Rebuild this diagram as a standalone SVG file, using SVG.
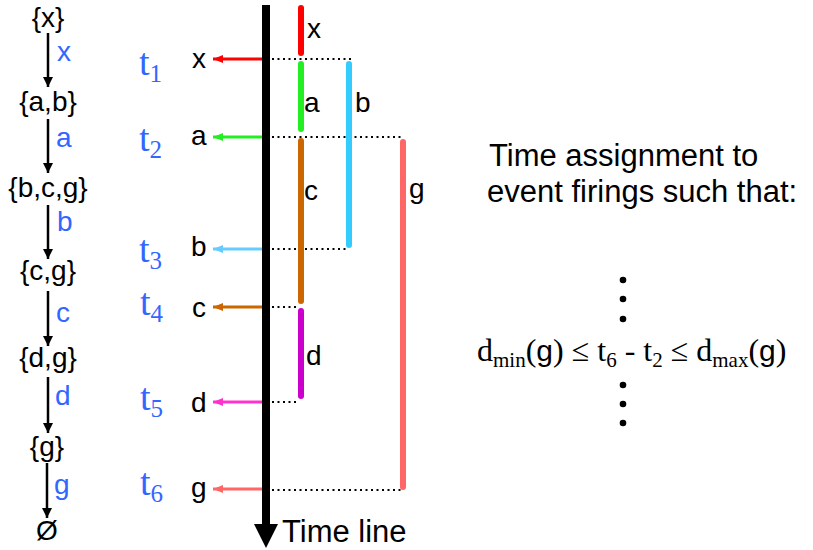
<svg xmlns="http://www.w3.org/2000/svg" width="813" height="550" viewBox="0 0 813 550">
<style>
.st{font-family:"Liberation Sans",Arial,sans-serif;font-size:28px;fill:#000;text-anchor:middle}
.ev{font-family:"Liberation Sans",Arial,sans-serif;font-size:28px;fill:#3366FF}
.lb{font-family:"Liberation Sans",Arial,sans-serif;font-size:28px;fill:#000}
.tm{font-family:"Liberation Serif","Times New Roman",serif;font-size:38px;fill:#3366FF}
.tms{font-family:"Liberation Serif","Times New Roman",serif;font-size:25px;fill:#3366FF}
.big{font-family:"Liberation Sans",Arial,sans-serif;font-size:31px;fill:#000}
.fs{font-family:"Liberation Serif","Times New Roman",serif;font-size:32px;fill:#000}
.fsub{font-family:"Liberation Serif","Times New Roman",serif;font-size:21px;fill:#000}
.fa{font-family:"Liberation Sans",Arial,sans-serif;font-size:30px;fill:#000}
.conn{stroke:#000;stroke-width:2.5;fill:none;marker-end:url(#ah)}
.dot{stroke:#000;stroke-width:2;stroke-dasharray:2 3.5;fill:none}
.bar{stroke-width:6;stroke-linecap:round;fill:none}
.ta{stroke-width:3;fill:none}
</style>
<defs>
<marker id="ah" markerUnits="userSpaceOnUse" markerWidth="12" markerHeight="12" refX="10" refY="5" orient="auto"><path d="M0,0 L10,5 L0,10 z" fill="#000"/></marker>
<marker id="mr" markerUnits="userSpaceOnUse" markerWidth="12" markerHeight="10" refX="10" refY="4" orient="auto"><path d="M0,0 L10,4 L0,8 z" fill="#FF0000"/></marker>
<marker id="mg" markerUnits="userSpaceOnUse" markerWidth="12" markerHeight="10" refX="10" refY="4" orient="auto"><path d="M0,0 L10,4 L0,8 z" fill="#22EE22"/></marker>
<marker id="mb" markerUnits="userSpaceOnUse" markerWidth="12" markerHeight="10" refX="10" refY="4" orient="auto"><path d="M0,0 L10,4 L0,8 z" fill="#66CCFF"/></marker>
<marker id="mc" markerUnits="userSpaceOnUse" markerWidth="12" markerHeight="10" refX="10" refY="4" orient="auto"><path d="M0,0 L10,4 L0,8 z" fill="#CC6600"/></marker>
<marker id="md" markerUnits="userSpaceOnUse" markerWidth="12" markerHeight="10" refX="10" refY="4" orient="auto"><path d="M0,0 L10,4 L0,8 z" fill="#FF33CC"/></marker>
<marker id="mgg" markerUnits="userSpaceOnUse" markerWidth="12" markerHeight="10" refX="10" refY="4" orient="auto"><path d="M0,0 L10,4 L0,8 z" fill="#FF6666"/></marker>
</defs>
<rect width="813" height="550" fill="#fff"/>

<!-- state sequence -->
<g id="s0"><text class="st" x="48" y="27">{x}</text></g>
<g id="s1"><text class="st" x="48" y="111">{a,b}</text></g>
<g id="s2"><text class="st" x="48" y="197">{b,c,g}</text></g>
<g id="s3"><text class="st" x="48" y="280">{c,g}</text></g>
<g id="s4"><text class="st" x="48" y="367">{d,g}</text></g>
<g id="s5"><text class="st" x="47" y="456">{g}</text></g>
<g id="s6"><text class="st" x="47" y="540">Ø</text></g>

<g id="connectors">
<line class="conn" x1="48" y1="33" x2="48" y2="87"/>
<line class="conn" x1="48" y1="119" x2="48" y2="173"/>
<line class="conn" x1="48" y1="205" x2="48" y2="259"/>
<line class="conn" x1="48" y1="291" x2="48" y2="346"/>
<line class="conn" x1="48" y1="377" x2="48" y2="433"/>
<line class="conn" x1="47" y1="463" x2="47" y2="518"/>
<text class="ev" x="57" y="61">x</text>
<text class="ev" x="56" y="147">a</text>
<text class="ev" x="57" y="231">b</text>
<text class="ev" x="56" y="322">c</text>
<text class="ev" x="55" y="405">d</text>
<text class="ev" x="54" y="494">g</text>
</g>

<!-- time line -->
<g id="timeline">
<line x1="266" y1="5" x2="266" y2="526" stroke="#000" stroke-width="8"/>
<polygon points="254,524 278,524 266,548" fill="#000"/>
<text class="big" x="282" y="542">Time line</text>
</g>

<!-- firing arrows -->
<g id="firings">
<line class="ta" x1="262" y1="59" x2="213" y2="59" stroke="#FF0000" marker-end="url(#mr)"/>
<line class="ta" x1="262" y1="137" x2="213" y2="137" stroke="#22EE22" marker-end="url(#mg)"/>
<line class="ta" x1="262" y1="249" x2="213" y2="249" stroke="#66CCFF" marker-end="url(#mb)"/>
<line class="ta" x1="262" y1="307" x2="213" y2="307" stroke="#CC6600" marker-end="url(#mc)"/>
<line class="ta" x1="262" y1="402" x2="213" y2="402" stroke="#FF33CC" marker-end="url(#md)"/>
<line class="ta" x1="262" y1="489" x2="213" y2="489" stroke="#FF6666" marker-end="url(#mgg)"/>
<text class="lb" x="192" y="68">x</text>
<text class="lb" x="191" y="145">a</text>
<text class="lb" x="191" y="256">b</text>
<text class="lb" x="192" y="317">c</text>
<text class="lb" x="191" y="412">d</text>
<text class="lb" x="191" y="497">g</text>
</g>

<!-- time labels -->
<g id="times">
<text class="tm" x="139" y="75">t<tspan class="tms" dy="7">1</tspan></text>
<text class="tm" x="139" y="151">t<tspan class="tms" dy="7">2</tspan></text>
<text class="tm" x="139" y="262">t<tspan class="tms" dy="7">3</tspan></text>
<text class="tm" x="140" y="315">t<tspan class="tms" dy="7">4</tspan></text>
<text class="tm" x="140" y="410">t<tspan class="tms" dy="7">5</tspan></text>
<text class="tm" x="140" y="495">t<tspan class="tms" dy="7">6</tspan></text>
</g>

<!-- dotted guides -->
<g id="guides">
<line class="dot" x1="272" y1="59" x2="352" y2="59"/>
<line class="dot" x1="272" y1="137" x2="404" y2="137"/>
<line class="dot" x1="272" y1="249" x2="347" y2="249"/>
<line class="dot" x1="272" y1="307" x2="298" y2="307"/>
<line class="dot" x1="272" y1="402" x2="298" y2="402"/>
<line class="dot" x1="272" y1="490" x2="401" y2="490"/>
</g>

<!-- delay bars -->
<g id="bar-x"><line class="bar" x1="301" y1="8" x2="301" y2="53" stroke="#FF0000"/><text class="lb" x="307" y="38">x</text></g>
<g id="bar-a"><line class="bar" x1="301" y1="64" x2="301" y2="129" stroke="#22EE22"/><text class="lb" x="304" y="112">a</text></g>
<g id="bar-c"><line class="bar" x1="301" y1="141" x2="301" y2="301" stroke="#CC6600"/><text class="lb" x="304" y="200">c</text></g>
<g id="bar-d"><line class="bar" x1="301" y1="311" x2="301" y2="396" stroke="#CC00CC"/><text class="lb" x="306" y="365">d</text></g>
<g id="bar-b"><line class="bar" x1="349" y1="64" x2="349" y2="245" stroke="#33CCFF"/><text class="lb" x="355" y="112">b</text></g>
<g id="bar-g"><line class="bar" x1="403" y1="142" x2="403" y2="487" stroke="#FF6666"/><text class="lb" x="409" y="198">g</text></g>

<!-- description -->
<g id="desc">
<text class="big" x="489" y="166">Time assignment to</text>
<text class="big" x="487" y="202">event firings such that:</text>
<circle cx="623" cy="280" r="3.3"/>
<circle cx="623" cy="299" r="3.3"/>
<circle cx="623" cy="319" r="3.3"/>
<circle cx="623" cy="385" r="3.3"/>
<circle cx="623" cy="404" r="3.3"/>
<circle cx="623" cy="423" r="3.3"/>
<text x="477" y="361"><tspan class="fs">d</tspan><tspan class="fsub" dy="6">min</tspan><tspan class="fs" dy="-6">(</tspan><tspan class="fa">g</tspan><tspan class="fs">) ≤ t</tspan><tspan class="fsub" dy="6">6</tspan><tspan class="fs" dy="-6"> - t</tspan><tspan class="fsub" dy="6">2</tspan><tspan class="fs" dy="-6"> ≤ d</tspan><tspan class="fsub" dy="6">max</tspan><tspan class="fs" dy="-6">(</tspan><tspan class="fa">g</tspan><tspan class="fs">)</tspan></text>
</g>
</svg>
